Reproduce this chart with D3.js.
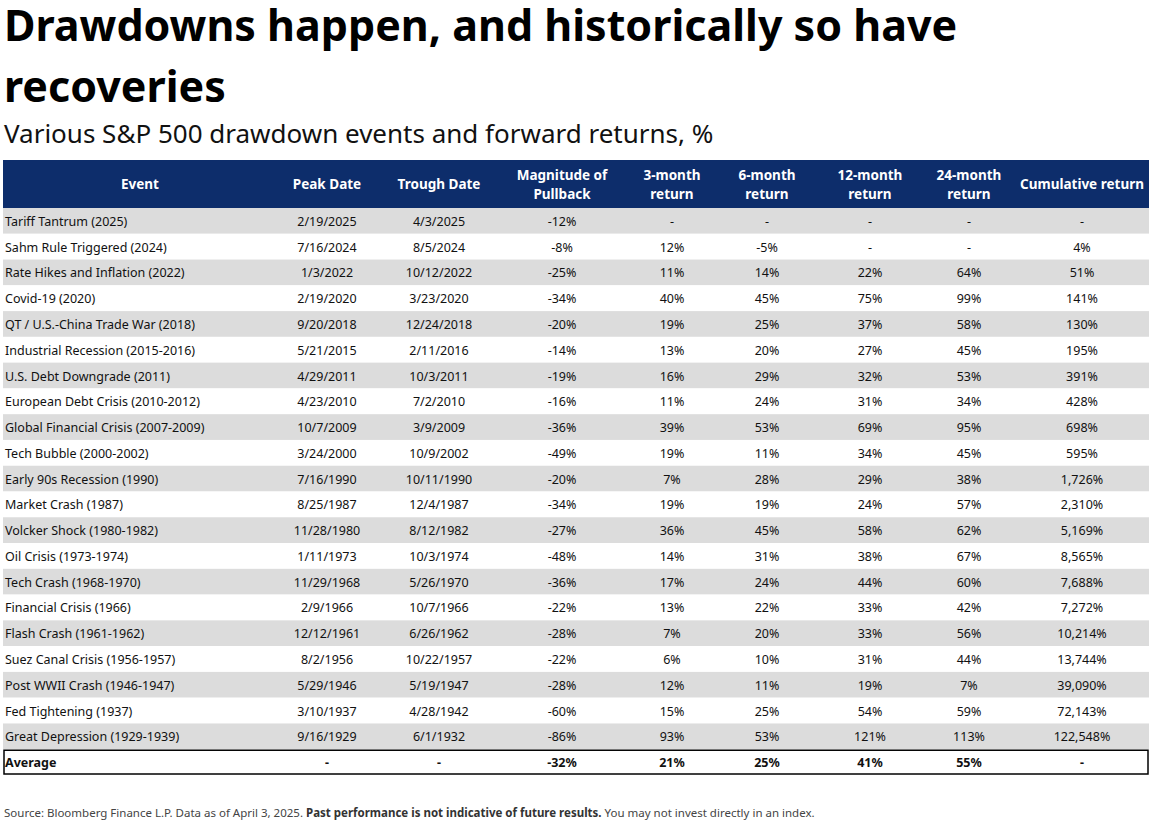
<!DOCTYPE html>
<html><head><meta charset="utf-8">
<script src="https://cdn.jsdelivr.net/npm/d3@7"></script>
<style>body{margin:0;background:#fff;font-family:"Noto Sans",sans-serif}</style>
</head><body><svg id="chart" width="1163" height="826"></svg>
<script>
// table rows: event, peak, trough, pullback, 3m, 6m, 12m, 24m, cumulative
const rows = [
  ["Tariff Tantrum (2025)","2/19/2025","4/3/2025","-12%","-","-","-","-","-"],
  ["Sahm Rule Triggered (2024)","7/16/2024","8/5/2024","-8%","12%","-5%","-","-","4%"],
  ["Rate Hikes and Inflation (2022)","1/3/2022","10/12/2022","-25%","11%","14%","22%","64%","51%"],
  ["Covid-19 (2020)","2/19/2020","3/23/2020","-34%","40%","45%","75%","99%","141%"],
  ["QT / U.S.-China Trade War (2018)","9/20/2018","12/24/2018","-20%","19%","25%","37%","58%","130%"],
  ["Industrial Recession (2015-2016)","5/21/2015","2/11/2016","-14%","13%","20%","27%","45%","195%"],
  ["U.S. Debt Downgrade (2011)","4/29/2011","10/3/2011","-19%","16%","29%","32%","53%","391%"],
  ["European Debt Crisis (2010-2012)","4/23/2010","7/2/2010","-16%","11%","24%","31%","34%","428%"],
  ["Global Financial Crisis (2007-2009)","10/7/2009","3/9/2009","-36%","39%","53%","69%","95%","698%"],
  ["Tech Bubble (2000-2002)","3/24/2000","10/9/2002","-49%","19%","11%","34%","45%","595%"],
  ["Early 90s Recession (1990)","7/16/1990","10/11/1990","-20%","7%","28%","29%","38%","1,726%"],
  ["Market Crash (1987)","8/25/1987","12/4/1987","-34%","19%","19%","24%","57%","2,310%"],
  ["Volcker Shock (1980-1982)","11/28/1980","8/12/1982","-27%","36%","45%","58%","62%","5,169%"],
  ["Oil Crisis (1973-1974)","1/11/1973","10/3/1974","-48%","14%","31%","38%","67%","8,565%"],
  ["Tech Crash (1968-1970)","11/29/1968","5/26/1970","-36%","17%","24%","44%","60%","7,688%"],
  ["Financial Crisis (1966)","2/9/1966","10/7/1966","-22%","13%","22%","33%","42%","7,272%"],
  ["Flash Crash (1961-1962)","12/12/1961","6/26/1962","-28%","7%","20%","33%","56%","10,214%"],
  ["Suez Canal Crisis (1956-1957)","8/2/1956","10/22/1957","-22%","6%","10%","31%","44%","13,744%"],
  ["Post WWII Crash (1946-1947)","5/29/1946","5/19/1947","-28%","12%","11%","19%","7%","39,090%"],
  ["Fed Tightening (1937)","3/10/1937","4/28/1942","-60%","15%","25%","54%","59%","72,143%"],
  ["Great Depression (1929-1939)","9/16/1929","6/1/1932","-86%","93%","53%","121%","113%","122,548%"]
];
const average = ["Average","-","-","-32%","21%","25%","41%","55%","-"];
const headers = [["Event"],["Peak Date"],["Trough Date"],["Magnitude of","Pullback"],["3-month","return"],["6-month","return"],["12-month","return"],["24-month","return"],["Cumulative return"]];
const colCenters = [140,327,439,562,672,767,870,969,1082];

const svg = d3.select("#chart");
const left = 3, right = 1149, headTop = 160, headH = 48;

//title and subtitle
svg.append("text").attr("x",4).attr("y",41).attr("font-size",43).attr("font-weight",700).attr("fill","#000").text("Drawdowns happen, and historically so have");
svg.append("text").attr("x",4).attr("y",102).attr("font-size",43).attr("font-weight",700).attr("fill","#000").text("recoveries");
svg.append("text").attr("x",4).attr("y",143).attr("font-size",26).attr("fill","#111").text("Various S&P 500 drawdown events and forward returns, %");

//row scale
const y = d3.scaleBand().domain(d3.range(rows.length+1)).range([headTop+headH, 775]);

//header
svg.append("rect").attr("x",left).attr("y",headTop).attr("width",right-left).attr("height",headH).attr("fill","#0d2d6b");
headers.forEach((h,i) => {
  h.forEach((line,j) => {
    svg.append("text").attr("x",colCenters[i]).attr("y",headTop+headH/2+5+(j-(h.length-1)/2)*19)
      .attr("text-anchor","middle").attr("font-size",13.5).attr("font-weight",700).attr("fill","#fff").text(line);
  });
});

//body rows
const all = rows.concat([average]);
all.forEach((r,i) => {
  const isAvg = i === rows.length;
  if (!isAvg) {
    svg.append("rect").attr("x",left).attr("y",y(i)).attr("width",right-left).attr("height",y.bandwidth())
      .attr("fill", i%2===0 ? "#dcdcdc" : "#fff");
  } else {
    svg.append("rect").attr("x",left+1).attr("y",y(i)+1).attr("width",right-left-2).attr("height",y.bandwidth()-2)
      .attr("fill","#fff").attr("stroke","#000").attr("stroke-width",1.5);
  }
  r.forEach((v,c) => {
    svg.append("text").attr("x", c===0 ? 5 : colCenters[c]).attr("y", y(i)+y.bandwidth()/2+5)
      .attr("text-anchor", c===0 ? "start" : "middle").attr("font-size",12.5)
      .attr("font-weight", isAvg ? 700 : 400).attr("fill","#111").text(v);
  });
});

//footer
const foot = svg.append("text").attr("x",4).attr("y",817).attr("font-size",11.5).attr("fill","#444");
foot.append("tspan").text("Source: Bloomberg Finance L.P. Data as of April 3, 2025. ");
foot.append("tspan").attr("font-weight",700).attr("fill","#333").text("Past performance is not indicative of future results.");
foot.append("tspan").text(" You may not invest directly in an index.");
</script></body></html>
